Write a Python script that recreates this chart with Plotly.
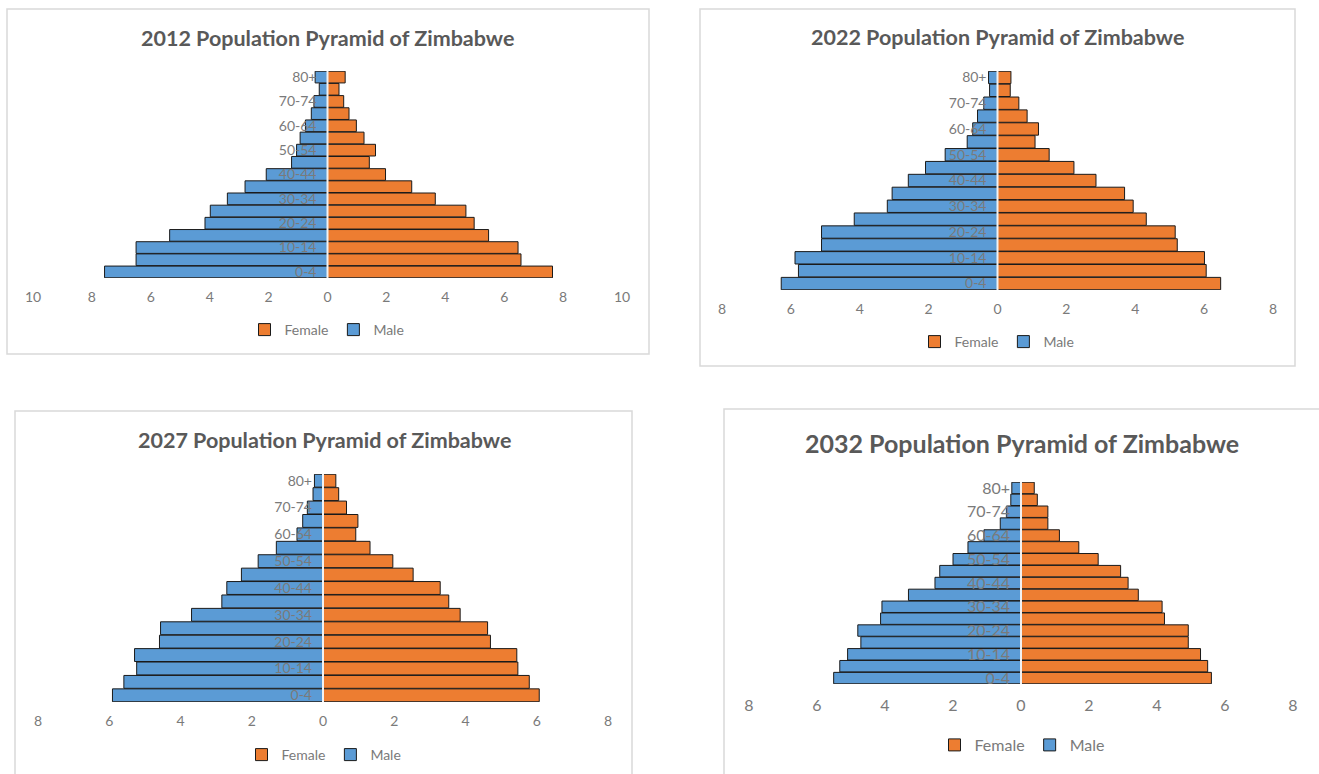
import plotly.graph_objects as go

W, H = 1319, 774

age_groups = ["0-4", "5-9", "10-14", "15-19", "20-24", "25-29", "30-34", "35-39",
              "40-44", "45-49", "50-54", "55-59", "60-64", "65-69", "70-74", "75-79", "80+"]
shown_labels = ["0-4", "10-14", "20-24", "30-34", "40-44", "50-54", "60-64", "70-74", "80+"]

male_2012 = [7.57, 6.50, 6.50, 5.36, 4.16, 3.98, 3.40, 2.80, 2.08, 1.22, 1.05, 0.93, 0.75, 0.55, 0.46, 0.28, 0.42]
female_2012 = [7.64, 6.57, 6.47, 5.47, 4.98, 4.70, 3.66, 2.86, 1.97, 1.42, 1.63, 1.24, 0.98, 0.73, 0.55, 0.39, 0.60]

male_2022 = [6.28, 5.78, 5.88, 5.11, 5.11, 4.16, 3.20, 3.06, 2.59, 2.09, 1.52, 0.88, 0.72, 0.58, 0.40, 0.23, 0.26]
female_2022 = [6.48, 6.06, 6.01, 5.22, 5.16, 4.32, 3.94, 3.69, 2.86, 2.22, 1.50, 1.09, 1.19, 0.86, 0.62, 0.37, 0.39]

male_2027 = [5.91, 5.59, 5.23, 5.29, 4.59, 4.56, 3.69, 2.84, 2.70, 2.29, 1.82, 1.31, 0.73, 0.57, 0.44, 0.28, 0.24]
female_2027 = [6.07, 5.79, 5.47, 5.44, 4.70, 4.62, 3.85, 3.53, 3.29, 2.53, 1.96, 1.32, 0.92, 0.98, 0.66, 0.44, 0.36]

male_2032 = [5.51, 5.33, 5.10, 4.71, 4.80, 4.13, 4.09, 3.31, 2.53, 2.39, 2.00, 1.56, 1.09, 0.61, 0.43, 0.30, 0.27]
female_2032 = [5.60, 5.49, 5.28, 4.92, 4.92, 4.22, 4.15, 3.45, 3.15, 2.93, 2.27, 1.70, 1.13, 0.79, 0.79, 0.48, 0.39]

years = ["2012", "2022", "2027", "2032"]
males = [male_2012, male_2022, male_2027, male_2032]
females = [female_2012, female_2022, female_2027, female_2032]
axis_max = [10, 8, 8, 8]

FEMALE = "#ED7D31"
MALE = "#5B9BD5"
TITLE_C = "#595959"
TICK_C = "#7a7a7a"
FONT = "Lato, 'Open Sans', sans-serif"

# layout of each panel in pixels
panels = [
    dict(x0=33, x1=622, y0=71, y1=278, leg=330, ty=38, tx=327, box=(7, 9, 649, 354), tfs=21.5, fs=14),
    dict(x0=722, x1=1273, y0=71, y1=290, leg=342, ty=37, tx=997, box=(700, 9, 1295, 366), tfs=21.5, fs=14),
    dict(x0=38, x1=608, y0=474, y1=702, leg=755, ty=440, tx=324, box=(15, 411, 632, 790), tfs=21.5, fs=14),
    dict(x0=749, x1=1293, y0=482, y1=684, leg=745, ty=443, tx=1022, box=(724, 409, 1330, 790), tfs=25, fs=16),
]

def fx(px):
    return px / W

def fy(py):
    return 1 - py / H

fig = go.Figure()
shapes = []
annotations = []
layout = {}

for i, (yr, m, f, mx, p) in enumerate(zip(years, males, females, axis_max, panels)):
    n = "" if i == 0 else str(i + 1)
    xa, ya = "x" + n, "y" + n
    leg = "legend" + n
    fig.add_trace(go.Bar(y=age_groups, x=f, orientation="h", name="Female",
                         marker=dict(color=FEMALE, line=dict(color="#1a1a1a", width=1)),
                         xaxis=xa, yaxis=ya, legend=leg))
    fig.add_trace(go.Bar(y=age_groups, x=[-v for v in m], orientation="h", name="Male",
                         marker=dict(color=MALE, line=dict(color="#1a1a1a", width=1)),
                         xaxis=xa, yaxis=ya, legend=leg))
    dom_x = [fx(p["x0"]), fx(p["x1"])]
    dom_y = [fy(p["y1"]), fy(p["y0"])]
    tv = list(range(-mx, mx + 1, 2))
    layout["xaxis" + n] = dict(domain=dom_x, range=[-mx, mx], tickvals=tv,
                               ticktext=[str(abs(v)) for v in tv],
                               showgrid=False, zeroline=False, showline=False, ticks="",
                               tickfont=dict(color=TICK_C, size=p["fs"], family=FONT),
                               anchor=ya, ticklabelstandoff=9 if i < 3 else 10, fixedrange=True,
                               automargin=False)
    layout["yaxis" + n] = dict(domain=dom_y, type="category", categoryorder="array",
                               categoryarray=age_groups, tickvals=shown_labels,
                               showgrid=False, zeroline=False, showline=False, ticks="",
                               tickfont=dict(color=TICK_C, size=p["fs"], family=FONT),
                               anchor="free", position=(dom_x[0] + dom_x[1]) / 2,
                               ticklabelstandoff=11, layer="above traces", fixedrange=True,
                               automargin=False)
    layout[leg] = dict(orientation="h", x=fx(p["tx"]), y=fy(p["leg"]), xanchor="center",
                       yanchor="middle", font=dict(color=TICK_C, size=p["fs"], family=FONT),
                       bgcolor="rgba(0,0,0,0)", itemclick=False, itemdoubleclick=False,
                       tracegroupgap=0, itemwidth=30)
    shapes.append(dict(type="line", xref=xa, yref=ya + " domain", x0=0, x1=0, y0=0, y1=1,
                       line=dict(color="#f2f2f2", width=2), layer="above"))
    bx0, by0, bx1, by1 = p["box"]
    shapes.append(dict(type="rect", xref="paper", yref="paper", x0=fx(bx0), x1=fx(bx1),
                       y0=fy(by1), y1=fy(by0), line=dict(color="#d9d9d9", width=1.5),
                       layer="below"))
    annotations.append(dict(text="<b>%s Population Pyramid of Zimbabwe</b>" % yr,
                            xref="paper", yref="paper", x=fx(p["tx"]), y=fy(p["ty"]),
                            xanchor="center", yanchor="middle", showarrow=False,
                            font=dict(color=TITLE_C, size=p["tfs"], family=FONT)))

fig.update_layout(**layout)
fig.update_layout(width=W, height=H, margin=dict(l=0, r=0, t=0, b=0, pad=0, autoexpand=False),
                  paper_bgcolor="white", plot_bgcolor="rgba(0,0,0,0)",
                  barmode="relative", bargap=0.04, shapes=shapes, annotations=annotations,
                  font=dict(family=FONT), showlegend=True)

fig.write_html("out.html", config={"displayModeBar": False},
               post_script="document.body.style.margin='0';document.body.style.overflow='hidden';")
